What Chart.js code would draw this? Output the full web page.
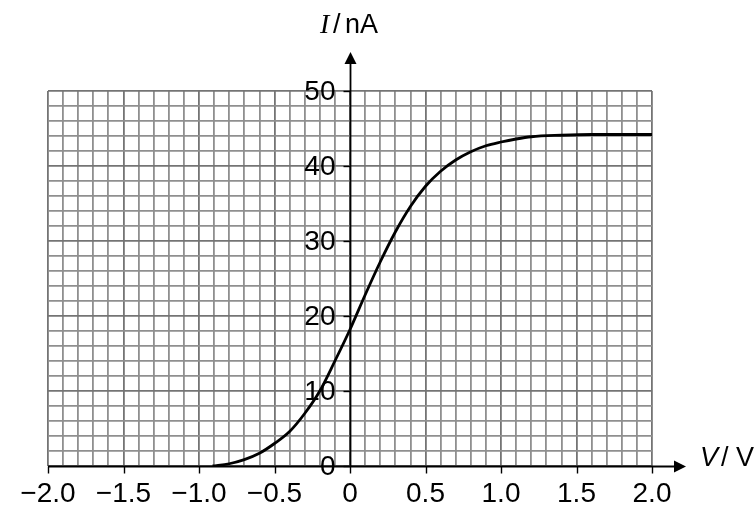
<!DOCTYPE html>
<html>
<head>
<meta charset="utf-8">
<script src="https://cdn.jsdelivr.net/npm/chart.js@4"></script>
<style>
  body { margin: 0; background: #fff; }
  canvas { display: block; }
</style>
</head>
<body>
<canvas id="ivCurve" width="756" height="510"></canvas>
<script>
// values: V in volts, I in nA
var voltage = [-0.91, -0.8, -0.7, -0.6, -0.5, -0.4, -0.3, -0.2, -0.1, 0, 0.1, 0.2, 0.3, 0.4, 0.5, 0.6, 0.7, 0.8, 0.9, 1.0, 1.1, 1.2, 1.4, 1.6, 1.8, 2.0];
var current = [0, 0.3, 0.85, 1.7, 3.0, 4.6, 7.0, 10.0, 14.0, 18.2, 22.8, 27.2, 31.2, 34.6, 37.3, 39.3, 40.8, 41.9, 42.7, 43.2, 43.6, 43.9, 44.1, 44.2, 44.2, 44.2];

// labelled ticks
var xTickValues = [-2.0, -1.5, -1.0, -0.5, 0, 0.5, 1.0, 1.5, 2.0];
var xTickLabels = ['\u22122.0', '\u22121.5', '\u22121.0', '\u22120.5', '0', '0.5', '1.0', '1.5', '2.0'];
var yTickValues = [0, 10, 20, 30, 40, 50];
var yTickLabels = ['0', '10', '20', '30', '40', '50'];

var points = voltage.map(function (v, i) { return { x: v, y: current[i] }; });
var FONT = '"Liberation Sans", Arial, sans-serif';

//arrow-headed axes through the origin, tick marks, y labels and axis titles
var axesPlugin = {
  id: 'axesThroughOrigin',
  afterDatasetsDraw: function (chart) {
    var ctx = chart.ctx;
    var xs = chart.scales.x, ys = chart.scales.y;
    var x0 = Math.round(xs.getPixelForValue(0)) + 0.5;
    var y0 = Math.round(ys.getPixelForValue(0)) + 0.5;
    var xEnd = xs.right + 34;
    var yEnd = ys.top - 39;
    ctx.save();
    ctx.strokeStyle = '#000';
    ctx.fillStyle = '#000';
    ctx.lineWidth = 1.8;

    // x axis
    ctx.beginPath();
    ctx.moveTo(xs.left, y0);
    ctx.lineTo(xEnd - 10, y0);
    ctx.stroke();
    ctx.beginPath();
    ctx.moveTo(xEnd, y0);
    ctx.lineTo(xEnd - 12, y0 - 6);
    ctx.lineTo(xEnd - 12, y0 + 6);
    ctx.closePath();
    ctx.fill();

    // y axis
    ctx.beginPath();
    ctx.moveTo(x0, y0);
    ctx.lineTo(x0, yEnd + 10);
    ctx.stroke();
    ctx.beginPath();
    ctx.moveTo(x0, yEnd);
    ctx.lineTo(x0 - 6, yEnd + 12);
    ctx.lineTo(x0 + 6, yEnd + 12);
    ctx.closePath();
    ctx.fill();

    // tick marks on x axis
    ctx.lineWidth = 1.4;
    xTickValues.forEach(function (v) {
      var px = Math.round(xs.getPixelForValue(v)) + 0.5;
      ctx.beginPath();
      ctx.moveTo(px, y0);
      ctx.lineTo(px, y0 + 7);
      ctx.stroke();
    });

    // tick marks and labels on y axis
    ctx.font = '28px ' + FONT;
    ctx.textAlign = 'right';
    ctx.textBaseline = 'middle';
    yTickValues.forEach(function (v, i) {
      var py = Math.round(ys.getPixelForValue(v)) + 0.5;
      ctx.beginPath();
      ctx.moveTo(x0, py);
      ctx.lineTo(x0 - 7, py);
      ctx.stroke();
      ctx.fillText(yTickLabels[i], x0 - 15, py + 1);
    });

    // axis titles
    ctx.textAlign = 'left';
    ctx.textBaseline = 'alphabetic';
    ctx.font = 'italic 28px "Liberation Serif", "Times New Roman", serif';
    ctx.fillText('I', 320, 33);
    ctx.font = '27px ' + FONT;
    ctx.fillText('/', 333, 33);
    ctx.fillText('nA', 345, 33);

    ctx.font = 'italic 27px ' + FONT;
    ctx.fillText('V', 700, 466);
    ctx.font = '27px ' + FONT;
    ctx.fillText('/', 721, 466);
    ctx.fillText('V', 736, 466);
    ctx.restore();
  }
};

function isMajorX(v) { return Math.round(v * 10) % 5 === 0; }
function isMajorY(v) { return Math.round(v) % 10 === 0; }

var config = {
  type: 'scatter',
  data: {
    datasets: [{
      data: points,
      showLine: true,
      borderColor: '#000',
      borderWidth: 2.8,
      pointRadius: 0,
      cubicInterpolationMode: 'monotone',
      fill: false
    }]
  },
  options: {
    responsive: false,
    devicePixelRatio: 1,
    animation: false,
    layout: { padding: { left: 48, right: 104, top: 91, bottom: 0 } },
    plugins: {
      legend: { display: false },
      tooltip: { enabled: false }
    },
    scales: {
      x: {
        type: 'linear',
        min: -2,
        max: 2,
        border: { display: false },
        grid: {
          drawTicks: false,
          color: function (c) { return isMajorX(c.tick.value) ? '#747474' : '#8f8f8f'; },
          lineWidth: 1.8
        },
        ticks: {
          stepSize: 0.1,
          maxTicksLimit: 60,
          autoSkip: false,
          maxRotation: 0,
          padding: 11,
          color: '#000',
          font: { family: FONT, size: 28 },
          callback: function (v) {
            var k = xTickValues.findIndex(function (t) { return Math.abs(t - v) < 1e-6; });
            return k >= 0 ? xTickLabels[k] : '';
          }
        },
        afterFit: function (s) { s.height = 44; }
      },
      y: {
        type: 'linear',
        min: 0,
        max: 50,
        border: { display: false },
        grid: {
          drawTicks: false,
          color: function (c) { return isMajorY(c.tick.value) ? '#747474' : '#8f8f8f'; },
          lineWidth: 1.8
        },
        ticks: { display: false, stepSize: 2, maxTicksLimit: 40 },
        afterFit: function (s) { s.width = 0; }
      }
    }
  },
  plugins: [axesPlugin]
};

var ivChart = new Chart(document.getElementById('ivCurve'), config);
</script>
</body>
</html>
